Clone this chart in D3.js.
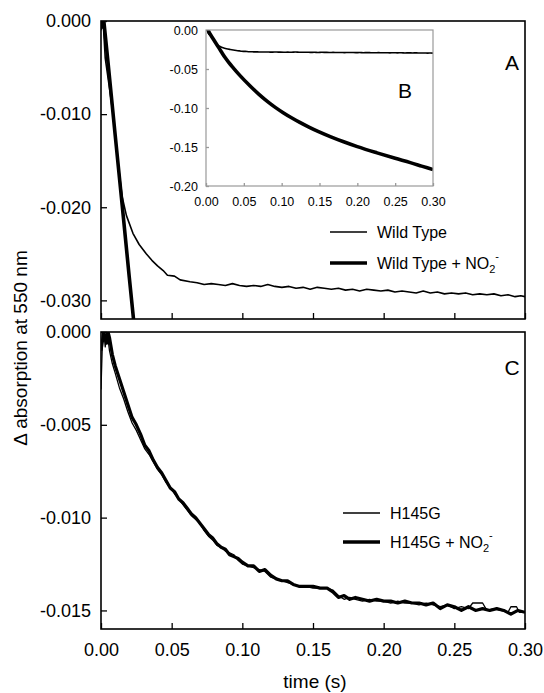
<!DOCTYPE html>
<html>
<head>
<meta charset="utf-8">
<script src="https://cdn.jsdelivr.net/npm/d3@7"></script>
<style>
  body { margin: 0; background: #fff; }
  svg { font-family: "Liberation Sans", Arial, sans-serif; }
</style>
</head>
<body>
<svg id="chart" width="544" height="693"></svg>
<script>
// ---- data ----
const timeTicks = [0, 0.05, 0.10, 0.15, 0.20, 0.25, 0.30];
const ticksA = [0, -0.010, -0.020, -0.030];
const ticksC = [0, -0.005, -0.010, -0.015];
const ticksB = [0, -0.05, -0.10, -0.15, -0.20];

// wild type (thin)
const wtTime = [0, 0.0015, 0.003, 0.006, 0.0085, 0.012, 0.015, 0.018, 0.0226, 0.027, 0.032, 0.036,
  0.040, 0.044, 0.047, 0.052, 0.056, 0.063, 0.068, 0.073, 0.078, 0.083, 0.088, 0.093, 0.098, 0.103,
  0.108, 0.113, 0.118, 0.123, 0.128, 0.133, 0.138, 0.143, 0.148, 0.153, 0.158, 0.163, 0.168, 0.173,
  0.178, 0.183, 0.188, 0.193, 0.198, 0.203, 0.208, 0.213, 0.218, 0.223, 0.228, 0.233, 0.238, 0.243,
  0.248, 0.253, 0.258, 0.263, 0.268, 0.273, 0.278, 0.283, 0.288, 0.293, 0.297, 0.300];
const wtValue = [-0.0010, 0.0000, -0.0040, -0.0072, -0.0100, -0.0152, -0.0189, -0.0209, -0.0228, -0.0240, -0.0250, -0.0257,
  -0.0263, -0.0268, -0.0273, -0.0274, -0.0278, -0.0280, -0.0281, -0.0283, -0.0282, -0.0283, -0.0284, -0.0282, -0.0284, -0.0285,
  -0.0284, -0.0285, -0.0283, -0.0285, -0.0286, -0.0285, -0.0287, -0.0286, -0.0288, -0.0286, -0.0287, -0.0288, -0.0287, -0.0289,
  -0.0288, -0.0290, -0.0288, -0.0289, -0.0290, -0.0289, -0.0291, -0.0290, -0.0291, -0.0292, -0.0290, -0.0292, -0.0291, -0.0293,
  -0.0292, -0.0293, -0.0292, -0.0294, -0.0293, -0.0294, -0.0293, -0.0295, -0.0294, -0.0296, -0.0295, -0.0296];

// wild type + nitrite (thick)
const wtnTime = [0, 0.001, 0.002, 0.005, 0.010, 0.015, 0.020, 0.025, 0.030, 0.036, 0.045, 0.058, 0.070,
  0.081, 0.092, 0.102, 0.113, 0.124, 0.136, 0.148, 0.165, 0.181, 0.200, 0.226, 0.250, 0.270, 0.285, 0.300];
const wtnValue = [-0.0008, 0.0000, 0.0000, -0.0045, -0.0122, -0.0198, -0.0275, -0.0350, -0.0415, -0.0485, -0.0585, -0.0715, -0.0825,
  -0.0915, -0.0995, -0.1060, -0.1125, -0.1185, -0.1245, -0.1300, -0.1370, -0.1430, -0.1495, -0.1575, -0.1645, -0.1700, -0.1745, -0.1790];

// H145G (thin)
const hTime = [0.000, 0.001, 0.002, 0.003, 0.004, 0.005, 0.006, 0.008, 0.010, 0.013, 0.016, 0.019, 0.022, 0.025,
  0.028, 0.031, 0.034, 0.037, 0.040, 0.043, 0.046, 0.049, 0.052, 0.055, 0.058, 0.061, 0.064, 0.067, 0.070,
  0.073, 0.076, 0.079, 0.082, 0.085, 0.088, 0.091, 0.094, 0.097, 0.100, 0.104, 0.108, 0.112, 0.116, 0.120,
  0.124, 0.128, 0.132, 0.136, 0.140, 0.145, 0.150, 0.155, 0.160, 0.164, 0.168, 0.172, 0.176, 0.180, 0.185,
  0.190, 0.195, 0.200, 0.205, 0.210, 0.215, 0.220, 0.225, 0.230, 0.235, 0.240, 0.245, 0.250, 0.255, 0.260,
  0.263, 0.270, 0.273, 0.278, 0.283, 0.288, 0.290, 0.294, 0.296, 0.300];
const hValue = [-0.0031, -0.0005, 0.0000, -0.0008, 0.0000, -0.0004, -0.0010, -0.0017, -0.0022, -0.0030, -0.0036, -0.0043, -0.0049, -0.0053,
  -0.0058, -0.0063, -0.0066, -0.0070, -0.0074, -0.0077, -0.0081, -0.0084, -0.0087, -0.0090, -0.0093, -0.0096, -0.0099, -0.0101, -0.0103,
  -0.0107, -0.0110, -0.0112, -0.0115, -0.0116, -0.0118, -0.0119, -0.0120, -0.0123, -0.0125, -0.0126, -0.0127, -0.0128, -0.0129, -0.0132,
  -0.0133, -0.0134, -0.0135, -0.0136, -0.0137, -0.0137, -0.0138, -0.0138, -0.0138, -0.0139, -0.0142, -0.0144, -0.0143, -0.0144, -0.0145,
  -0.0144, -0.0145, -0.0145, -0.0146, -0.0145, -0.0146, -0.0146, -0.0147, -0.0146, -0.0147, -0.0148, -0.0147, -0.0149, -0.0148, -0.0149,
  -0.0146, -0.0146, -0.0150, -0.0149, -0.0150, -0.0151, -0.0148, -0.0148, -0.0151, -0.0151];

// H145G + nitrite (thick)
const hnTime = [0.000, 0.002, 0.004, 0.005, 0.006, 0.008, 0.010, 0.013, 0.016, 0.019, 0.022, 0.025, 0.028,
  0.031, 0.034, 0.037, 0.040, 0.043, 0.046, 0.049, 0.052, 0.055, 0.058, 0.061, 0.064, 0.067, 0.070, 0.073,
  0.076, 0.079, 0.082, 0.085, 0.088, 0.091, 0.094, 0.097, 0.100, 0.104, 0.108, 0.112, 0.116, 0.120, 0.124,
  0.128, 0.132, 0.136, 0.140, 0.145, 0.150, 0.155, 0.160, 0.164, 0.168, 0.172, 0.176, 0.180, 0.185, 0.190,
  0.195, 0.200, 0.205, 0.210, 0.215, 0.220, 0.225, 0.230, 0.235, 0.240, 0.245, 0.250, 0.255, 0.260, 0.265,
  0.270, 0.275, 0.280, 0.285, 0.290, 0.295, 0.300];
const hnValue = [-0.0010, 0.0000, -0.0006, 0.0000, -0.0003, -0.0012, -0.0018, -0.0025, -0.0032, -0.0039, -0.0046, -0.0050, -0.0055,
  -0.0061, -0.0064, -0.0069, -0.0073, -0.0076, -0.0080, -0.0084, -0.0086, -0.0090, -0.0092, -0.0095, -0.0098, -0.0100, -0.0103, -0.0106,
  -0.0109, -0.0111, -0.0114, -0.0116, -0.0117, -0.0120, -0.0121, -0.0122, -0.0124, -0.0126, -0.0126, -0.0129, -0.0128, -0.0131, -0.0133,
  -0.0134, -0.0134, -0.0136, -0.0137, -0.0137, -0.0137, -0.0138, -0.0138, -0.0140, -0.0143, -0.0142, -0.0144, -0.0143, -0.0144, -0.0145,
  -0.0144, -0.0145, -0.0145, -0.0146, -0.0145, -0.0146, -0.0146, -0.0147, -0.0146, -0.0149, -0.0147, -0.0148, -0.0150, -0.0148, -0.0150,
  -0.0149, -0.0150, -0.0149, -0.0150, -0.0152, -0.0150, -0.0151];

const zip = (ts, vs) => ts.map((t, i) => ({t: t, v: vs[i]}));
// hyphen instead of the unicode minus d3 puts in
const fmt = spec => d => d3.format(spec)(d).replace('\u2212', '-');

const svg = d3.select('#chart');

// ---- scales ----
const x = d3.scaleLinear().domain([0, 0.30]).range([101, 525]);
const yA = d3.scaleLinear().domain([-0.032, 0]).range([319, 21]);
const yC = d3.scaleLinear().domain([-0.016, 0]).range([629, 332]);
const xB = d3.scaleLinear().domain([0, 0.30]).range([206, 433]);
const yB = d3.scaleLinear().domain([-0.20, 0]).range([186, 30]);

svg.append('defs').selectAll('clipPath')
  .data([['clipA', x, yA], ['clipC', x, yC], ['clipB', xB, yB]])
  .enter().append('clipPath')
  .attr('id', d => d[0])
  .append('rect')
  .attr('x', d => d[1].range()[0])
  .attr('y', d => d[2].range()[1])
  .attr('width', d => d[1].range()[1] - d[1].range()[0])
  .attr('height', d => d[2].range()[0] - d[2].range()[1]);

function frame(xs, ys, color, width) {
  svg.append('rect')
    .attr('x', xs.range()[0])
    .attr('y', ys.range()[1])
    .attr('width', xs.range()[1] - xs.range()[0])
    .attr('height', ys.range()[0] - ys.range()[1])
    .attr('fill', 'none')
    .attr('stroke', color)
    .attr('stroke-width', width);
}

function trace(xs, ys, data, width, clip, curve) {
  const line = d3.line().x(d => xs(d.t)).y(d => ys(d.v)).curve(curve || d3.curveLinear);
  svg.append('path')
    .datum(data)
    .attr('clip-path', 'url(#' + clip + ')')
    .attr('fill', 'none')
    .attr('stroke', '#000')
    .attr('stroke-width', width)
    .attr('stroke-linejoin', 'round')
    .attr('d', line);
}

function styleAxis(g, color, size) {
  g.select('.domain').remove();
  g.selectAll('line').attr('stroke', color).attr('stroke-width', 1.3);
  g.selectAll('text').attr('fill', '#000').style('font-size', size + 'px');
}

// ---- panel A ----
svg.append('g')
  .attr('transform', 'translate(' + x.range()[0] + ',0)')
  .call(d3.axisLeft(yA).tickValues(ticksA).tickFormat(fmt('.3f')).tickSize(-6).tickPadding(10))
  .call(g => styleAxis(g, '#000', 18));
svg.append('g')
  .attr('transform', 'translate(0,' + yA.range()[0] + ')')
  .call(d3.axisBottom(x).tickValues(timeTicks).tickFormat('').tickSize(-6))
  .call(g => styleAxis(g, '#000', 18));
trace(x, yA, zip(wtTime, wtValue), 1.6, 'clipA');
trace(x, yA, zip(wtnTime, wtnValue), 3.6, 'clipA');
frame(x, yA, '#000', 1.6);

// ---- inset B ----
svg.append('rect')
  .attr('x', xB.range()[0]).attr('y', yB.range()[1])
  .attr('width', xB.range()[1] - xB.range()[0])
  .attr('height', yB.range()[0] - yB.range()[1])
  .attr('fill', '#fff');
svg.append('g')
  .attr('transform', 'translate(' + xB.range()[0] + ',0)')
  .call(d3.axisLeft(yB).tickValues(ticksB).tickFormat(fmt('.2f')).tickSize(-3).tickPadding(8))
  .call(g => styleAxis(g, '#999', 12.5));
svg.append('g')
  .attr('transform', 'translate(0,' + yB.range()[0] + ')')
  .call(d3.axisBottom(xB).tickValues(timeTicks).tickFormat(fmt('.2f')).tickSize(-3).tickPadding(11))
  .call(g => styleAxis(g, '#999', 12.5));
trace(xB, yB, zip(wtTime, wtValue), 1.6, 'clipB', d3.curveMonotoneX);
trace(xB, yB, zip(wtnTime, wtnValue), 3.6, 'clipB', d3.curveMonotoneX);
frame(xB, yB, '#999', 1.2);

// ---- panel C ----
svg.append('g')
  .attr('transform', 'translate(' + x.range()[0] + ',0)')
  .call(d3.axisLeft(yC).tickValues(ticksC).tickFormat(fmt('.3f')).tickSize(-6).tickPadding(10))
  .call(g => styleAxis(g, '#000', 18));
svg.append('g')
  .attr('transform', 'translate(0,' + yC.range()[0] + ')')
  .call(d3.axisBottom(x).tickValues(timeTicks).tickFormat(fmt('.2f')).tickSize(-6).tickPadding(14))
  .call(g => styleAxis(g, '#000', 18));
trace(x, yC, zip(hTime, hValue), 1.3, 'clipC');
trace(x, yC, zip(hnTime, hnValue), 3.2, 'clipC');
frame(x, yC, '#000', 1.6);

// ---- panel letters ----
svg.selectAll('.letter')
  .data([['A', 512, 70], ['B', 405, 98], ['C', 512, 375]])
  .enter().append('text')
  .attr('class', 'letter')
  .attr('x', d => d[1])
  .attr('y', d => d[2])
  .attr('text-anchor', 'middle')
  .style('font-size', '21px')
  .text(d => d[0]);

// ---- legends ----
function legend(x0, y0, label, nitrite, width) {
  svg.append('line')
    .attr('x1', x0).attr('x2', x0 + 37)
    .attr('y1', y0).attr('y2', y0)
    .attr('stroke', '#000').attr('stroke-width', width);
  const t = svg.append('text')
    .attr('x', x0 + 47)
    .attr('y', y0 + 6)
    .style('font-size', '16px')
    .text(label);
  if (nitrite) {
    t.append('tspan').text(' + NO');
    t.append('tspan').attr('dy', 4).style('font-size', '11px').text('2');
    t.append('tspan').attr('dy', -13).style('font-size', '11px').text('-');
  }
}
legend(330, 232, 'Wild Type', false, 1.6);
legend(330, 263, 'Wild Type', true, 3.6);
legend(343, 513, 'H145G', false, 1.3);
legend(343, 542, 'H145G', true, 3.6);

// ---- axis titles ----
svg.append('text')
  .attr('transform', 'translate(27,348) rotate(-90)')
  .attr('text-anchor', 'middle')
  .style('font-size', '19px')
  .text('\u0394 absorption at 550 nm');
svg.append('text')
  .attr('x', 315)
  .attr('y', 688)
  .attr('text-anchor', 'middle')
  .style('font-size', '19px')
  .text('time (s)');
</script>
</body>
</html>
